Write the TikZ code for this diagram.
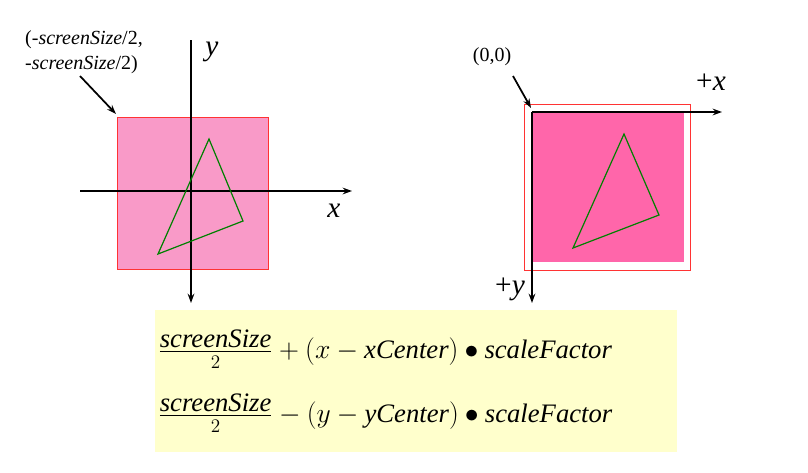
\documentclass[tikz,border=0pt]{standalone}
\usepackage{fontspec}
\setmainfont{Liberation Serif}
\usetikzlibrary{arrows.meta}
\definecolor{lpink}{RGB}{249,154,200}
\definecolor{dpink}{RGB}{255,102,170}
\definecolor{lyel}{RGB}{255,255,204}
\begin{document}
\begin{tikzpicture}[x=0.75pt,y=-0.75pt,
  ax/.style={line width=1.3pt,-{Stealth[length=7pt,width=5pt]}},
  tri/.style={draw=green!50!black,line width=0.9pt},
  lbl/.style={font=\fontsize{22}{24}\selectfont\itshape,inner sep=0pt}]
\useasboundingbox (0,0) rectangle (808,472);
% yellow box
\fill[lyel] (155,310) rectangle (677,452);
% left
\filldraw[fill=lpink,draw=red!80] (117,117) rectangle (268,269);
\coordinate (lx0) at (80,191); \coordinate (lx1) at (352,191);
\coordinate (ly0) at (191,40); \coordinate (ly1) at (191,303);
\draw[ax] (lx0) -- (lx1);
\draw[ax] (ly0) -- (ly1);
\draw[tri] (209,139) -- (243,221) -- (158,254) -- cycle;
\node[lbl] (ylab) at (212,52) {y};
\node[lbl] (xlab) at (334,211) {x};
\node[align=left,font=\fontsize{15}{19}\selectfont,inner sep=0pt] (corner) at (84,52) {(-\textit{screenSize}/2,\\-\textit{screenSize}/2)};
\coordinate (lc) at (116,114);
\draw[ax] (80,76) -- (lc);
% right
\draw[red!80] (524,104) rectangle (690,270);
\fill[dpink] (532,112) rectangle (684,262);
\draw[ax] (532,112) -- (722,112);
\draw[ax] (532,112) -- (532,303);
\draw[tri] (624,134) -- (659,215) -- (573,248) -- cycle;
\node[font=\fontsize{22}{24}\selectfont,inner sep=0pt] (px) at (711,82) {+\textit{x}};
\node[font=\fontsize{22}{24}\selectfont,inner sep=0pt] (py) at (510,289) {+\textit{y}};
\node[font=\fontsize{15}{18}\selectfont,inner sep=0pt] (orig) at (492,57) {(0,0)};
\coordinate (rc) at (531,108);
\draw[ax] (513,76) -- (rc);
% formulas
\node[anchor=west,inner sep=0pt,font=\fontsize{20}{24}\selectfont] (f1) at (158,349)
 {$\frac{\textit{screenSize}}{2}+\bigl(x-\textit{xCenter}\bigr)\bullet\textit{scaleFactor}$};
\node[anchor=west,inner sep=0pt,font=\fontsize{20}{24}\selectfont] (f2) at (158,413)
 {$\frac{\textit{screenSize}}{2}-\Bigl(y-\textit{yCenter}\Bigr)\bullet\textit{scaleFactor}$};
\end{tikzpicture}
\end{document}
